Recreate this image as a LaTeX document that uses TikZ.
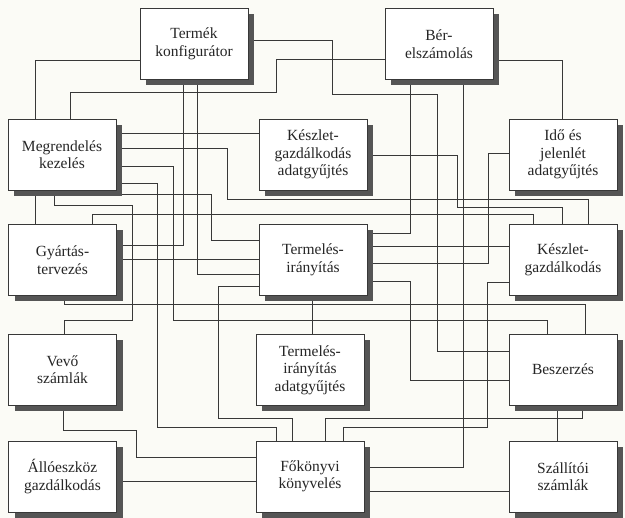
\documentclass[tikz,border=0pt]{standalone}
\usepackage{fontspec}
\setmainfont{Liberation Serif}
\usetikzlibrary{shadows}
\pgfdeclarelayer{canvas}
\pgfdeclarelayer{wires}
\pgfsetlayers{canvas,wires,main}
\definecolor{ink}{HTML}{383838}
\definecolor{shade}{HTML}{555555}
\definecolor{paper}{HTML}{FBFBF6}
\tikzset{
  box/.style={draw=ink, line width=0.9pt, fill=white, minimum width=108pt, minimum height=71pt,
    inner sep=2pt, align=center, text=black!85, font=\fontsize{15.5}{17.5}\selectfont,
    drop shadow={shadow xshift=6pt, shadow yshift=-6pt, fill=shade, opacity=1}},
  wire/.style={draw=ink, line width=0.85pt}
}
\begin{document}
\begin{tikzpicture}[x=1pt,y=-1pt]
\useasboundingbox (0,0) rectangle (625,518);
\begin{pgfonlayer}{canvas}
\fill[paper] (0,0) rectangle (625,518);
\end{pgfonlayer}

\node[box] (termek) at (194,44) {Termék\\konfigurátor};
\node[box] (ber) at (439,44) {Bér-\\elszámolás};
\node[box] (megr) at (62,154.5) {Megrendelés\\kezelés};
\node[box] (kgadat) at (313,154.5) {Készlet-\\gazdálkodás\\adatgyűjtés};
\node[box] (ido) at (563,154.5) {Idő és\\jelenlét\\adatgyűjtés};
\node[box] (gyart) at (62.5,260) {Gyártás-\\tervezés};
\node[box] (term) at (313,260) {Termelés-\\irányítás};
\node[box] (kg) at (563,260) {Készlet-\\gazdálkodás};
\node[box] (vevo) at (62.5,369.5) {Vevő\\számlák};
\node[box] (tiadat) at (310,370) {Termelés-\\irányítás\\adatgyűjtés};
\node[box] (besz) at (563,369.5) {Beszerzés};
\node[box] (allo) at (62.5,476.5) {Állóeszköz\\gazdálkodás};
\node[box] (fokv) at (310,476.5) {Főkönyvi\\könyvelés};
\node[box] (szall) at (563,476.5) {Szállítói\\számlák};

\begin{pgfonlayer}{wires}
\draw[wire] (termek.west |- 0,60) -| (megr.north -| 35,0);
\draw[wire] (ber.west |- 0,59) -| (276,92) -| (megr.north -| 70,0);
\draw[wire] (termek.east |- 0,40) -| (332,94) -| (437,351) -- (besz.west |- 0,351);
\draw[wire] (ber.east |- 0,60) -| (ido.north -| 562,0);
\draw[wire] (ber.south -| 410,0) |- (term.east |- 0,233);
\draw[wire] (ber.south -| 463,0) |- (fokv.east |- 0,467);
\draw[wire] (termek.south -| 183,0) |- (gyart.east |- 0,245);
\draw[wire] (termek.south -| 197,0) |- (term.west |- 0,274);
\draw[wire] (megr.east |- 0,133) -- (kgadat.west |- 0,133);
\draw[wire] (megr.east |- 0,148) -| (227,199) -| (kg.north -| 588,0);
\draw[wire] (megr.east |- 0,166) -| (173,320) -| (besz.north -| 547,0);
\draw[wire] (megr.east |- 0,183) -| (157,427) -| (fokv.north -| 276,0);
\draw[wire] (megr.east |- 0,194) -| (211,240) -- (term.west |- 0,240);
\draw[wire] (megr.south -| 35,0) -- (gyart.north -| 35,0);
\draw[wire] (megr.south -| 54,0) |- (132,205) |- (64,320) -- (vevo.north -| 64,0);
\draw[wire] (kgadat.east |- 0,155) -| (457,207) -| (kg.north -| 562,0);
\draw[wire] (ido.west |- 0,153) -| (488,263) -- (term.east |- 0,263);
\draw[wire] (gyart.north -| 92,0) |- (533,214) -- (kg.north -| 533,0);
\draw[wire] (gyart.east |- 0,259) -- (term.west |- 0,259);
\draw[wire] (gyart.south -| 64,0) |- (585,304) -- (besz.north -| 585,0);
\draw[wire] (term.west |- 0,286) -| (218,418) -| (fokv.north -| 292,0);
\draw[wire] (term.east |- 0,246) -- (kg.west |- 0,246);
\draw[wire] (term.east |- 0,281) -| (410,380) -- (besz.west |- 0,380);
\draw[wire] (term.south -| 312,0) -- (tiadat.north -| 312,0);
\draw[wire] (kg.west |- 0,282) -| (487,427) -| (fokv.north -| 343,0);
\draw[wire] (besz.south -| 582,0) |- (325,418) -- (fokv.north -| 325,0);
\draw[wire] (besz.south -| 557,0) -- (szall.north -| 557,0);
\draw[wire] (vevo.south -| 63,0) |- (136,430) |- (fokv.west |- 0,457);
\draw[wire] (allo.east |- 0,481) -- (fokv.west |- 0,481);
\draw[wire] (fokv.east |- 0,491) -- (szall.west |- 0,491);
\end{pgfonlayer}
\end{tikzpicture}
\end{document}
